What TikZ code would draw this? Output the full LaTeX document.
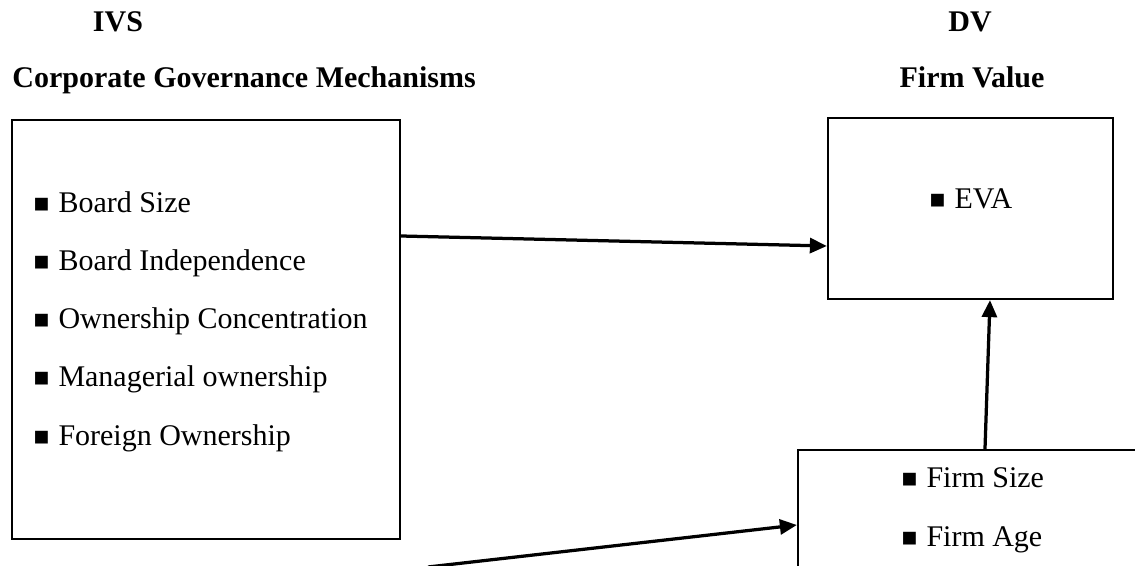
\documentclass[tikz,border=0pt]{standalone}
\usepackage{fontspec}
\setmainfont{Liberation Serif}
\usetikzlibrary{arrows.meta,calc}
\newcommand{\sqb}{\makebox[10pt][l]{\fontsize{10.5pt}{10pt}\selectfont ■}}

\begin{document}
\begin{tikzpicture}[x=0.4pt,y=-0.4pt,
  every node/.style={font=\fontsize{12pt}{14pt}\selectfont,inner sep=0pt},
  head/.style={anchor=base,font=\fontsize{12pt}{14pt}\selectfont\bfseries},
  item/.style={anchor=base west},
  box/.style={draw,line width=0.9pt},
  link/.style={line width=1.3pt,-{Triangle[length=6.8pt,width=6pt]}}]
\useasboundingbox (0,0) rectangle (1135,566);
%IVS
\node[head] (ivs) at (118,32) {IVS};
\node[head,anchor=base west] (cgm) at (12,88) {Corporate Governance Mechanisms};
\node[box,minimum width=155.2pt,minimum height=167.6pt] (gov) at (206,329.5) {};
\foreach \txt [count=\i] in {Board Size,Board Independence,Ownership Concentration,Managerial ownership,Foreign Ownership}
  \node[item] (g\i) at (33,{213+58*(\i-1)}) {\sqb\txt};
%DV
\node[head] (dv) at (970,32) {DV};
\node[head] (fv) at (972,88) {Firm Value};
\node[box,minimum width=114pt,minimum height=72.4pt] (eva) at (970.5,208.5) {};
\node[item] (evatxt) at (929,209) {\sqb EVA};
%controls
\node[box,minimum width=149.6pt,minimum height=60pt] (firm) at (985,525) {};
\node[item] (fsize) at (901,487) {\sqb Firm Size};
\node[item] (fage) at (901,546) {\sqb Firm Age};
%links
\coordinate (tail) at (428,567);
\draw[link] ($(gov.east)+(0,-93.5)$) -- ($(eva.west)+(0,37.5)$);
\draw[link] (firm.north) -- ($(eva.south)+(19.5,0)$);
\draw[link] (tail) -- (firm.west);
\end{tikzpicture}
\end{document}
